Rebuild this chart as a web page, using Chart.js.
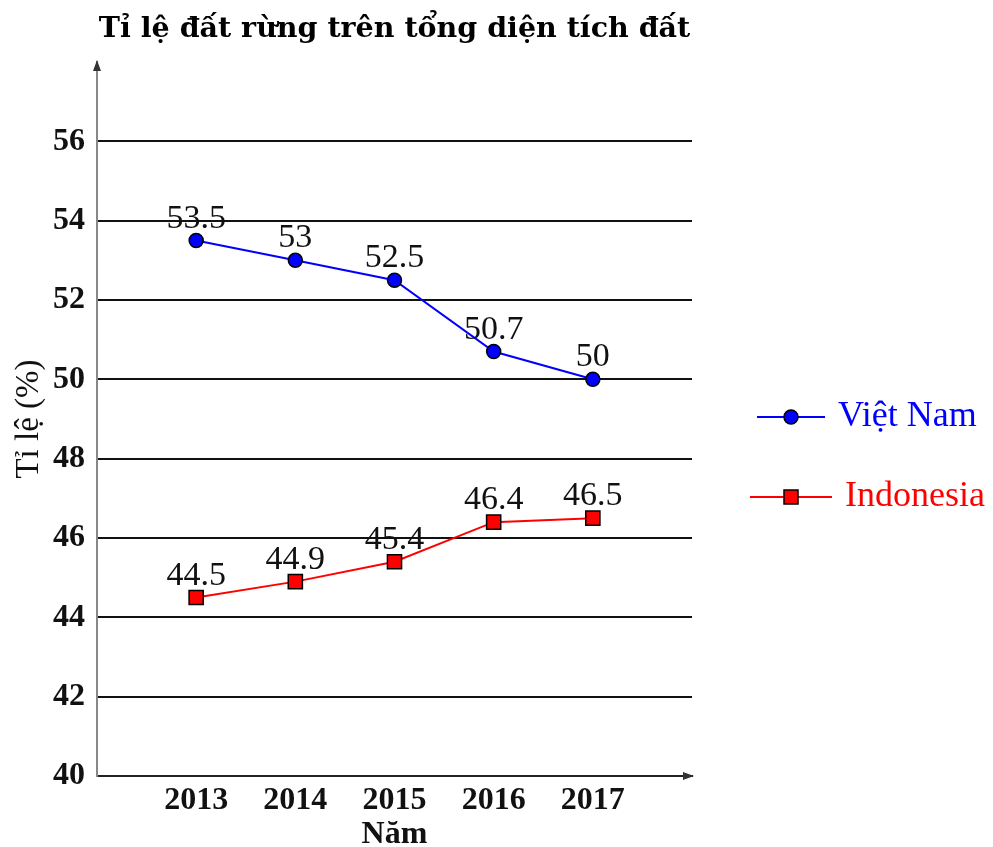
<!DOCTYPE html>
<html>
<head>
<meta charset="utf-8">
<script src="https://cdn.jsdelivr.net/npm/chart.js@4"></script>
<style>
	html, body { margin: 0; padding: 0; background: #fff; }
	#wrap { width: 993px; height: 847px; }
</style>
</head>
<body>
<div id="wrap"><canvas id="myChart"></canvas></div>
<script>
const years = [2013, 2014, 2015, 2016, 2017];
const vietNam = [53.5, 53, 52.5, 50.7, 50];
const indonesia = [44.5, 44.9, 45.4, 46.4, 46.5];
const yTicks = [40, 42, 44, 46, 48, 50, 52, 54, 56];
const chartTitle = "Tỉ lệ đất rừng trên tổng diện tích đất";
const seriesNames = ["Việt Nam", "Indonesia"];

const serif = "'Liberation Serif', 'DejaVu Serif', serif";

const toPoints = (vals) => vals.map((v, i) => ({ x: years[i], y: v }));

// title, axis arrows, value labels and legend
const extras = {
	id: "extras",
	afterDraw(chart) {
		const c = chart.ctx;
		const a = chart.chartArea;
		c.save();

		c.fillStyle = "#000";
		c.font = "bold 28.5px 'DejaVu Serif', serif";
		c.textAlign = "center";
		c.textBaseline = "middle";
		c.fillText(chartTitle, (a.left + a.right) / 2, 30);

		// arrow heads
		c.fillStyle = "#333";
		c.beginPath();
		c.moveTo(a.left, a.top - 2);
		c.lineTo(a.left - 4, a.top + 9);
		c.lineTo(a.left + 4, a.top + 9);
		c.closePath();
		c.fill();
		c.beginPath();
		c.moveTo(a.right + 2, a.bottom);
		c.lineTo(a.right - 9, a.bottom - 4);
		c.lineTo(a.right - 9, a.bottom + 4);
		c.closePath();
		c.fill();

		// value labels
		c.font = "34px " + serif;
		c.fillStyle = "#111";
		c.textBaseline = "alphabetic";
		chart.data.datasets.forEach((ds, i) => {
			chart.getDatasetMeta(i).data.forEach((pt, j) => {
				c.fillText(String(ds.data[j].y), pt.x, pt.y - 13);
			});
		});

		// legend
		const legendY = [417, 497];
		const legendX = [757, 750];
		const lineLen = [68, 82];
		chart.data.datasets.forEach((ds, i) => {
			const y = legendY[i];
			const x0 = legendX[i];
			const mid = x0 + lineLen[i] / 2;
			c.strokeStyle = ds.borderColor;
			c.lineWidth = 2;
			c.beginPath();
			c.moveTo(x0, y);
			c.lineTo(x0 + lineLen[i], y);
			c.stroke();
			c.fillStyle = ds.pointBackgroundColor;
			c.strokeStyle = "#000";
			c.lineWidth = 1.5;
			if (ds.pointStyle === "rect") {
				c.fillRect(mid - 7, y - 7, 14, 14);
				c.strokeRect(mid - 7, y - 7, 14, 14);
			} else {
				c.beginPath();
				c.arc(mid, y, 7, 0, Math.PI * 2);
				c.fill();
				c.stroke();
			}
			c.fillStyle = ds.borderColor;
			c.font = "36px " + serif;
			c.textAlign = "left";
			c.textBaseline = "middle";
			c.fillText(ds.label, x0 + lineLen[i] + 13, y);
		});
		c.restore();
	},
};

const ctx = document.getElementById("myChart");
const myChart = new Chart(ctx, {
	type: "line",
	data: {
		datasets: [
			{
				label: seriesNames[0],
				data: toPoints(vietNam),
				borderColor: "#0000ff",
				backgroundColor: "#0000ff",
				pointBackgroundColor: "#0000ff",
				pointBorderColor: "#000",
				pointBorderWidth: 1.5,
				pointStyle: "circle",
				pointRadius: 7,
				borderWidth: 2,
				tension: 0,
			},
			{
				label: seriesNames[1],
				data: toPoints(indonesia),
				borderColor: "#ff0000",
				backgroundColor: "#ff0000",
				pointBackgroundColor: "#ff0000",
				pointBorderColor: "#000",
				pointBorderWidth: 1.5,
				pointStyle: "rect",
				pointRadius: 10,
				borderWidth: 2,
				tension: 0,
			},
		],
	},
	options: {
		responsive: true,
		maintainAspectRatio: false,
		animation: false,
		layout: { padding: { top: 62, right: 301, bottom: 0, left: 0 } },
		plugins: {
			legend: { display: false },
			title: { display: false },
			tooltip: { enabled: false },
		},
		scales: {
			x: {
				type: "linear",
				min: 2012,
				max: 2018,
				afterBuildTicks: (s) => {
					s.ticks = years.map((v) => ({ value: v }));
				},
				afterFit: (s) => {
					s.height = 71;
				},
				grid: { display: false, drawTicks: false },
				border: { display: true, color: "#222", width: 2 },
				ticks: {
					callback: (v) => String(v),
					color: "#111",
					font: { family: serif, size: 32, weight: "bold" },
					padding: 6,
					maxRotation: 0,
				},
				title: {
					display: true,
					text: "Năm",
					color: "#111",
					font: { family: serif, size: 32, weight: "bold", lineHeight: 0.75 },
					padding: { top: 0, bottom: 0 },
				},
			},
			y: {
				min: 40,
				max: 58,
				afterBuildTicks: (s) => {
					s.ticks = yTicks.map((v) => ({ value: v }));
				},
				afterFit: (s) => {
					s.width = 97;
				},
				grid: { color: "#111", lineWidth: 2, drawTicks: false },
				border: { display: true, color: "#888", width: 2 },
				ticks: {
					color: "#111",
					font: { family: serif, size: 32, weight: "bold" },
					padding: 12,
				},
				title: {
					display: true,
					text: "Tỉ lệ (%)",
					color: "#111",
					font: { family: serif, size: 33 },
					padding: { top: 10, bottom: 0 },
				},
			},
		},
	},
	plugins: [extras],
});
</script>
</body>
</html>
